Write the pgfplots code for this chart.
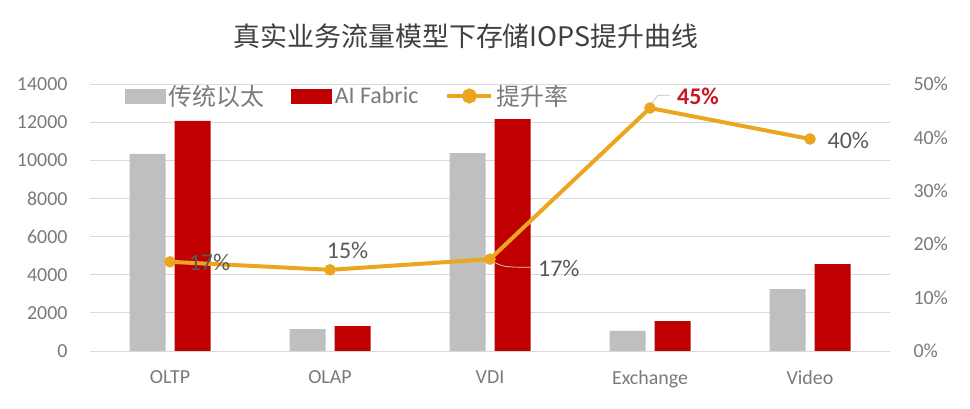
\documentclass[border=0pt]{standalone}
\usepackage{pgfplots}
\pgfplotsset{compat=1.18}
\usepackage{fontspec}
\setmainfont{Carlito}
\newfontfamily\cjk{Noto Sans CJK SC}

\definecolor{barGray}{HTML}{BFBFBF}
\definecolor{barRed}{HTML}{C00000}
\definecolor{lineOrange}{HTML}{EBA51F}
\definecolor{txt}{HTML}{595959}
\definecolor{ticktxt}{HTML}{7A7A7A}
\definecolor{titletxt}{HTML}{404040}
\definecolor{gridc}{HTML}{D9D9D9}
\definecolor{hiRed}{HTML}{CC1620}

\pgfplotsset{
  common/.style={
    at={(90bp,58bp)}, anchor=south west,
    scale only axis, width=800bp, height=267bp,
    xmin=-0.5, xmax=4.5,
    axis line style={draw=none},
    major tick style={draw=none},
    tick label style={font=\fontsize{20}{24}\selectfont, text=ticktxt},
    /pgf/number format/assume math mode=true,
    scaled y ticks=false,
  }
}

\begin{document}
\begin{tikzpicture}
\useasboundingbox (0,0) rectangle (970bp,409bp);
\node[font=\cjk\fontsize{27}{31}\selectfont, text=titletxt] at (466bp,373bp) {真实业务流量模型下存储IOPS提升曲线};

% bars, left axis
\begin{axis}[common,
  ymin=0, ymax=14000,
  ytick={0,2000,...,14000},
  yticklabel style={/pgf/number format/1000 sep={}, xshift=-19bp},
  xtick={0,...,4},
  xticklabels={OLTP,OLAP,VDI,Exchange,Video},
  xticklabel style={yshift=-12bp},
  ymajorgrids, grid style={gridc, line width=0.8bp},
  ybar=9bp, bar width=36bp,
]
\addplot[fill=barGray, draw=none] coordinates {(0,10330) (1,1150) (2,10380) (3,1050) (4,3250)};
\addplot[fill=barRed, draw=none] coordinates {(0,12060) (1,1310) (2,12160) (3,1570) (4,4560)};
\end{axis}

% rate line, right axis
\begin{axis}[common,
  ymin=0, ymax=50,
  axis y line*=right, hide x axis,
  ytick={0,10,...,50},
  yticklabel={\pgfmathprintnumber{\tick}\%},
  yticklabel style={xshift=20bp},
  legend style={at={(axis description cs:0.044,0.955)}, anchor=west,
    draw=none, fill=none, inner sep=0pt,
    font=\fontsize{24}{28}\selectfont, text=ticktxt,
    nodes={inner sep=0pt},
    /tikz/every odd column/.append style={column sep=3bp},
    /tikz/every even column/.append style={column sep=27bp}},
  legend columns=3,
]
\addlegendimage{legend image code/.code={\fill[barGray] (0bp,-7bp) rectangle (40bp,7bp);}}
\addlegendentry{\cjk 传统以太}
\addlegendimage{legend image code/.code={\fill[barRed] (0bp,-7bp) rectangle (40bp,7bp);}}
\addlegendentry{AI Fabric}
\addplot[draw=lineOrange, line width=4bp, mark=*, mark size=5.5bp,
  mark options={fill=lineOrange, draw=lineOrange, line width=0.5bp},
  legend image code/.code={\draw[lineOrange, line width=4bp] (0bp,0bp) -- (44bp,0bp);
    \fill[lineOrange] (22bp,0bp) circle (5.5bp);}]
  coordinates {(0,16.7) (1,15.2) (2,17.2) (3,45.5) (4,39.7)};
\addlegendentry{\cjk 提升率}

\draw[barGray, line width=0.7bp] (axis cs:3.01,46.3) -- (axis cs:3.05,47.9) -- (axis cs:3.125,47.9);
\draw[barGray!60, line width=0.7bp] (axis cs:2.0,17.0) .. controls (axis cs:2.08,15.8) .. (axis cs:2.175,15.7) -- (axis cs:2.26,15.7);

\begin{scope}[every node/.style={font=\fontsize{24}{28}\selectfont, text=txt}]
\node at (axis cs:0.247,16.5) {17\%};
\node at (axis cs:1.11,18.9) {15\%};
\node at (axis cs:2.43,15.5) {17\%};
\node at (axis cs:4.24,39.5) {40\%};
\node[text=hiRed, font=\bfseries\fontsize{24}{28}\selectfont] at (axis cs:3.3,47.6) {45\%};
\end{scope}
\end{axis}
\end{tikzpicture}
\end{document}
